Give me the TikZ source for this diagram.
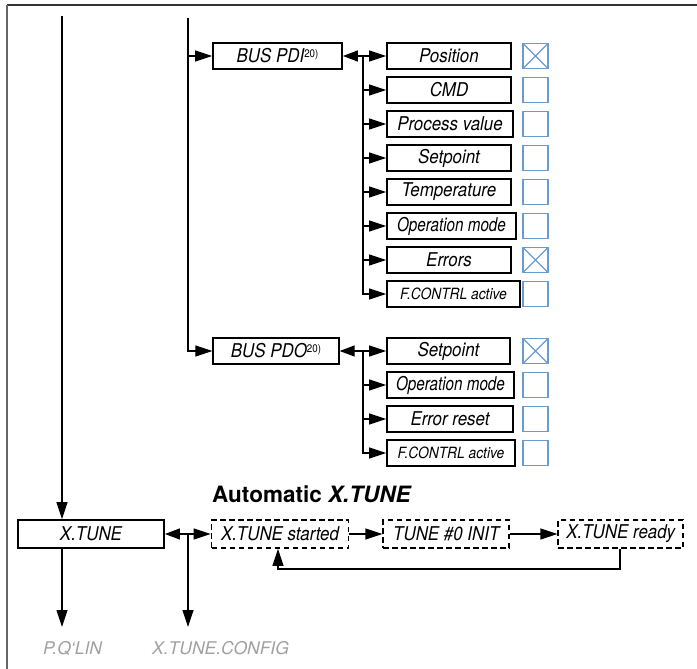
\documentclass[tikz,border=0pt]{standalone}
\usepackage{fontspec}
\setmainfont{TeX Gyre Heros}
\newfontfamily\labf[FakeStretch=0.89]{TeX Gyre Heros}
\newfontfamily\labn[FakeStretch=0.80]{TeX Gyre Heros}
\usetikzlibrary{arrows.meta}
\definecolor{cbblue}{HTML}{6B9BD2}
\definecolor{lblgray}{HTML}{A0A0A0}
\newcommand{\supn}{\raisebox{5pt}{\fontsize{11}{12}\selectfont\upshape 20)}}
\begin{document}
\begin{tikzpicture}[x=1pt,y=-1pt,
  mbox/.style={draw, line width=1.8, minimum height=26, inner sep=0, font=\labf\itshape\fontsize{19}{21}\selectfont},
  nbox/.style={mbox, font=\labn\itshape\fontsize{19}{21}\selectfont},
  sbox/.style={mbox, font=\labf\itshape\fontsize{15.5}{17}\selectfont},
  dbox/.style={mbox, dash pattern=on 5.5 off 3.5},
  cbox/.style={draw=cbblue, line width=1.5, minimum width=25, minimum height=25, inner sep=0},
  xbox/.style={cbox, path picture={\draw[cbblue, line width=1.2] (path picture bounding box.north west) -- (path picture bounding box.south east) (path picture bounding box.north east) -- (path picture bounding box.south west);}},
  conn/.style={line width=1.2},
  arr/.style={conn, -{Triangle[length=17, width=11]}},
  darr/.style={conn, {Triangle[length=15, width=11]}-{Triangle[length=17, width=11]}},
  glabel/.style={text=lblgray, font=\itshape\fontsize{17.5}{20}\selectfont, inner sep=0, anchor=west}
]
\useasboundingbox (0,0) rectangle (697,669);
% frame
\draw[black!80, line width=1.4] (7,5) -- (697,5);
\draw[black!60, line width=2] (7,5) -- (7,669);

% BUS PDI
\node[mbox, minimum width=129] (pdi) at (277.5,56) {BUS PDI\supn};
\node[mbox, minimum width=124] (pos) at (449,56) {Position};
\node[mbox, minimum width=124] (cmd) at (449,90) {CMD};
\node[mbox, minimum width=126] (pv) at (450,124) {Process value};
\node[mbox, minimum width=124] (sp) at (449,158) {Setpoint};
\node[mbox, minimum width=124] (temp) at (449,192) {Temperature};
\node[nbox, minimum width=129] (om) at (451.5,226) {Operation mode};
\node[mbox, minimum width=124] (err) at (449,260) {Errors};
\node[sbox, minimum width=133] (fc) at (453.5,294) {F.CONTRL active};
\node[xbox] (k1) at (535.5,56) {};
\node[cbox] (k2) at (535.5,90) {};
\node[cbox] (k3) at (535.5,124) {};
\node[cbox] (k4) at (535.5,158) {};
\node[cbox] (k5) at (535.5,192) {};
\node[cbox] (k6) at (535.5,226) {};
\node[xbox] (k7) at (535.5,260) {};
\node[cbox] (k8) at (535.5,294) {};

% BUS PDO
\node[mbox, line width=1.3, minimum width=126] (pdo) at (276,351) {BUS PDO\supn};
\node[mbox, minimum width=123] (psp) at (448.5,351) {Setpoint};
\node[nbox, minimum width=127] (pom) at (450.5,385) {Operation mode};
\node[mbox, minimum width=126] (per) at (450,419) {Error reset};
\node[sbox, minimum width=128] (pfc) at (451,453) {F.CONTRL active};
\node[xbox] (q1) at (535.5,351) {};
\node[cbox] (q2) at (535.5,385) {};
\node[cbox] (q3) at (535.5,419) {};
\node[cbox] (q4) at (535.5,453) {};

% bottom
\node[anchor=west, font=\bfseries\fontsize{22.5}{25}\selectfont, inner sep=0] (title) at (212,494) {Automatic \textit{X.TUNE}};
\node[mbox, minimum width=146, minimum height=28] (xt) at (91,534) {X.TUNE};
\node[dbox, minimum width=137, minimum height=28] (xs) at (280,534) {X.TUNE started};
\node[dbox, minimum width=126, minimum height=28] (ti) at (446.3,534) {TUNE \#0 INIT};
\node[dbox, minimum width=125, minimum height=28] (xr) at (620.8,534) {X.TUNE ready};
\node[glabel] (pql) at (43,648) {P.Q‘LIN};
\node[glabel] (cfg) at (152,648) {X.TUNE.CONFIG};

% coordinates
\coordinate (top1) at (62,16);
\coordinate (top2) at (188,18);
\coordinate (c2) at (188,56);
\coordinate (bA) at (363,56);
\coordinate (bP) at (363,351);
\coordinate (bB) at (188,534);
\coordinate (endA) at (62,627);
\coordinate (endB) at (188,627);
\coordinate (fb) at (620,569);
\coordinate (fbx) at (278,569);

% connectors top
\draw[arr] (top1) -- (top1 |- xt.north);
\draw[arr] (top2) |- (pdo.west);
\draw[arr] (c2) -- (pdi.west);
\draw[darr] (pdi.east) -- (pos.west);
\draw[arr] (bA) |- (fc.west);
\foreach \n in {cmd,pv,sp,temp,om,err}
  \draw[arr] (bA |- \n.west) -- (\n.west);
\draw[darr] (pdo.east) -- (psp.west);
\draw[arr] (bP) |- (pfc.west);
\foreach \n in {pom,per}
  \draw[arr] (bP |- \n.west) -- (\n.west);

% connectors bottom
\draw[arr] (xt.south -| top1) -- (endA);
\draw[darr] (xt.east) -- (xs.west);
\draw[arr] (bB) -- (endB);
\draw[arr] (xs.east) -- (ti.west);
\draw[arr] (ti.east) -- (xr.west);
\draw[arr] (xr.south -| fb) -- (fb) -| (xs.south -| fbx);
\end{tikzpicture}
\end{document}
